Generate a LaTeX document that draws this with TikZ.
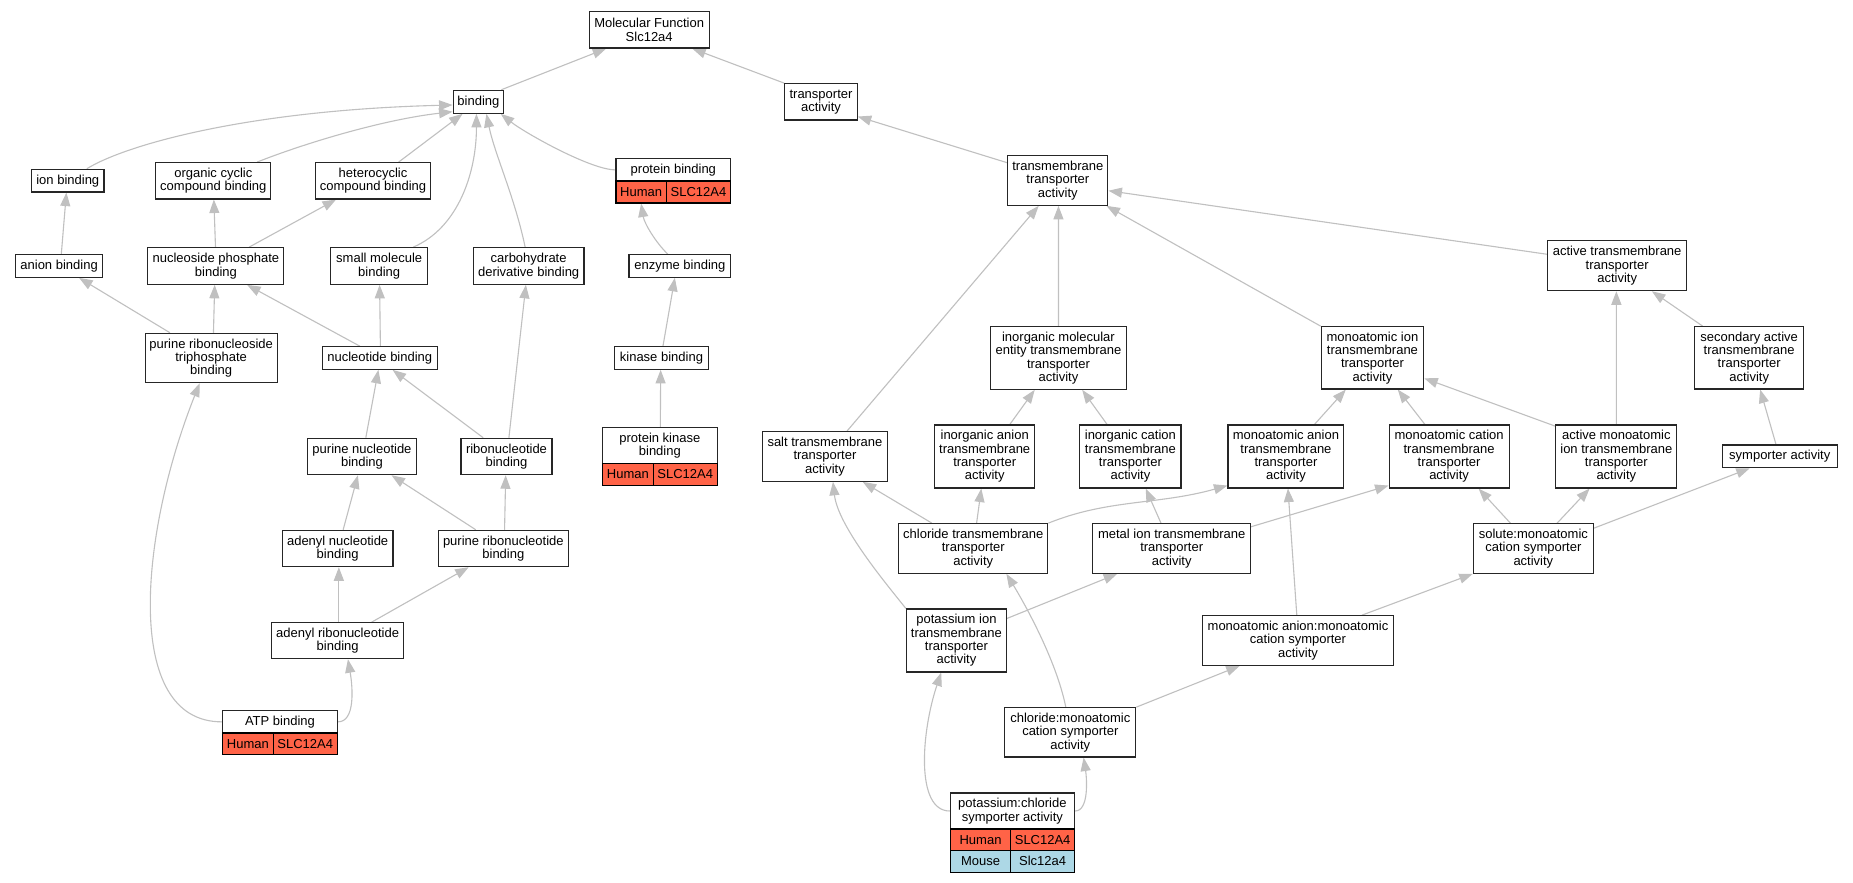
\documentclass[tikz,border=0pt]{standalone}
\usepackage{fontspec}
\setmainfont{Liberation Sans}
\usetikzlibrary{arrows.meta,backgrounds}
\definecolor{edgeC}{HTML}{C0C0C0}
\definecolor{borderC}{HTML}{262626}
\definecolor{humanC}{HTML}{FF6347}
\definecolor{mouseC}{HTML}{ADD8E6}
\newcommand{\gofont}{\fontsize{13}{13.3}\selectfont}
\tikzset{
  gonode/.style={draw=borderC, line width=1.1pt, fill=white, inner sep=0pt, align=center, font=\gofont},
  humcell/.style={gonode, fill=humanC, draw=black},
  moucell/.style={gonode, fill=mouseC, draw=black},
  goedge/.style={draw=edgeC, line width=1.1pt, -{Triangle[length=13.5pt,width=10pt]}}
}
\begin{document}
\begin{tikzpicture}[x=1pt,y=-1pt]
\useasboundingbox (0,0) rectangle (1853,883);
% ---------- nodes ----------
\node[gonode, minimum width=120.2pt, minimum height=36.3pt] (mf) at (649.2,29.85) {Molecular Function\\Slc12a4};
\node[gonode, minimum width=50.7pt, minimum height=23pt] (binding) at (478.45,101.8) {binding};
\node[gonode, minimum width=72.4pt, minimum height=36.3pt] (transporter) at (821,101.85) {transporter\\activity};
\node[gonode, minimum width=72.4pt, minimum height=22.7pt] (ionb) at (67.8,180.65) {ion binding};
\node[gonode, minimum width=115.1pt, minimum height=36.3pt] (organic) at (213.35,180.85) {organic cyclic\\compound binding};
\node[gonode, minimum width=115.1pt, minimum height=36.3pt] (hetero) at (373.05,180.85) {heterocyclic\\compound binding};
\node[gonode, minimum width=114.7pt, minimum height=22.3pt] (pb) at (673.35,169.85) {protein binding};
\node[humcell, minimum width=50.2pt, minimum height=22pt] (pbh) at (641.1,192) {Human};
\node[humcell, minimum width=64.5pt, minimum height=22pt] (pbs) at (698.45,192) {SLC12A4};
\node[gonode, minimum width=100.1pt, minimum height=49.6pt] (tm) at (1057.85,180.5) {transmembrane\\transporter\\activity};
\node[gonode, minimum width=86.6pt, minimum height=22.6pt] (anion) at (59.1,266) {anion binding};
\node[gonode, minimum width=136pt, minimum height=36.6pt] (nucphos) at (215.9,266) {nucleoside phosphate\\binding};
\node[gonode, minimum width=97.2pt, minimum height=36.6pt] (smallmol) at (379.2,266) {small molecule\\binding};
\node[gonode, minimum width=110.7pt, minimum height=36.6pt] (carbo) at (528.65,266) {carbohydrate\\derivative binding};
\node[gonode, minimum width=101.7pt, minimum height=22.6pt] (enzyme) at (679.85,266) {enzyme binding};
\node[gonode, minimum width=138.7pt, minimum height=50pt] (activetm) at (1617.15,265.7) {active transmembrane\\transporter\\activity};
\node[gonode, minimum width=132.1pt, minimum height=49.4pt] (prt) at (211.15,358) {purine ribonucleoside\\triphosphate\\binding};
\node[gonode, minimum width=115pt, minimum height=22.6pt] (nucleotide) at (379.8,358) {nucleotide binding};
\node[gonode, minimum width=93.3pt, minimum height=22.6pt] (kinase) at (661.45,358) {kinase binding};
\node[gonode, minimum width=136.1pt, minimum height=62.6pt] (inorgmol) at (1058.45,358) {inorganic molecular\\entity transmembrane\\transporter\\activity};
\node[gonode, minimum width=102.5pt, minimum height=62.3pt] (monoion) at (1372.45,357.85) {monoatomic ion\\transmembrane\\transporter\\activity};
\node[gonode, minimum width=109.5pt, minimum height=62.3pt] (secondary) at (1749.15,357.85) {secondary active\\transmembrane\\transporter\\activity};
\node[gonode, minimum width=108.8pt, minimum height=36.4pt] (purnuc) at (362,456.5) {purine nucleotide\\binding};
\node[gonode, minimum width=91pt, minimum height=36.4pt] (ribonuc) at (506.5,456.5) {ribonucleotide\\binding};
\node[gonode, minimum width=114.7pt, minimum height=36pt] (pk) at (659.85,445.7) {protein kinase\\binding};
\node[humcell, minimum width=50.7pt, minimum height=21.6pt] (pkh) at (627.85,474.5) {Human};
\node[humcell, minimum width=64pt, minimum height=21.6pt] (pks) at (685.2,474.5) {SLC12A4};
\node[gonode, minimum width=125.3pt, minimum height=49.6pt] (salt) at (824.95,456.5) {salt transmembrane\\transporter\\activity};
\node[gonode, minimum width=100pt, minimum height=63pt] (inorganion) at (984.7,456.5) {inorganic anion\\transmembrane\\transporter\\activity};
\node[gonode, minimum width=101.2pt, minimum height=63pt] (inorgcation) at (1130.4,456.5) {inorganic cation\\transmembrane\\transporter\\activity};
\node[gonode, minimum width=115.9pt, minimum height=63pt] (monoanion) at (1285.95,456.5) {monoatomic anion\\transmembrane\\transporter\\activity};
\node[gonode, minimum width=120pt, minimum height=63pt] (monocation) at (1449.1,456.5) {monoatomic cation\\transmembrane\\transporter\\activity};
\node[gonode, minimum width=121.1pt, minimum height=63pt] (activemono) at (1616.35,456.5) {active monoatomic\\ion transmembrane\\transporter\\activity};
\node[gonode, minimum width=114.9pt, minimum height=22.7pt] (symporter) at (1779.75,456.35) {symporter activity};
\node[gonode, minimum width=110.7pt, minimum height=36.4pt] (adenylnuc) at (337.65,548.5) {adenyl nucleotide\\binding};
\node[gonode, minimum width=129.7pt, minimum height=36.4pt] (purribonuc) at (503.35,548.5) {purine ribonucleotide\\binding};
\node[gonode, minimum width=149.1pt, minimum height=49.6pt] (chloridetm) at (973.25,548.5) {chloride transmembrane\\transporter\\activity};
\node[gonode, minimum width=157.6pt, minimum height=49.6pt] (metal) at (1171.7,548.5) {metal ion transmembrane\\transporter\\activity};
\node[gonode, minimum width=120.1pt, minimum height=49.6pt] (solute) at (1533.35,548.5) {solute:monoatomic\\cation symporter\\activity};
\node[gonode, minimum width=100pt, minimum height=63pt] (potion) at (956.4,640.5) {potassium ion\\transmembrane\\transporter\\activity};
\node[gonode, minimum width=132.1pt, minimum height=36pt] (adenylribo) at (337.65,640.7) {adenyl ribonucleotide\\binding};
\node[gonode, minimum width=190.6pt, minimum height=49.6pt] (monoanionsym) at (1298,640.5) {monoatomic anion:monoatomic\\cation symporter\\activity};
\node[gonode, minimum width=114.7pt, minimum height=22.3pt] (atp) at (279.95,721.85) {ATP binding};
\node[humcell, minimum width=50.6pt, minimum height=21.7pt] (atph) at (247.9,743.85) {Human};
\node[humcell, minimum width=64.1pt, minimum height=21.7pt] (atps) at (305.25,743.85) {SLC12A4};
\node[gonode, minimum width=130.8pt, minimum height=49.3pt] (chloridesym) at (1070.3,732.35) {chloride:monoatomic\\cation symporter\\activity};
\node[gonode, minimum width=124.2pt, minimum height=36pt] (potcl) at (1012.4,811) {potassium:chloride\\symporter activity};
\node[humcell, minimum width=60.5pt, minimum height=21.3pt] (pch) at (980.55,839.65) {Human};
\node[humcell, minimum width=63.7pt, minimum height=21.3pt] (pcs) at (1042.65,839.65) {SLC12A4};
\node[moucell, minimum width=60.5pt, minimum height=22pt] (pcm) at (980.55,861.3) {Mouse};
\node[moucell, minimum width=63.7pt, minimum height=22pt] (pcms) at (1042.65,861.3) {Slc12a4};
% ---------- edges ----------
\begin{scope}[on background layer]
\fill[white] (0,0) rectangle (1853,883);
\draw[goedge] ([xshift=-3pt]binding.north east) -- ([xshift=-43pt]mf.south);
\draw[goedge] (transporter.north west) -- ([xshift=43pt]mf.south);
\draw[goedge] ([xshift=19pt]ionb.north) .. controls (127,144) and (251,110) .. ([yshift=-3.2pt]binding.west);
\draw[goedge] ([xshift=43.6pt]organic.north) .. controls (300,145) and (380,120) .. ([yshift=-9.9pt]binding.west);
\draw[goedge] ([xshift=25.5pt]hetero.north) -- ([xshift=-15.9pt]binding.south);
\draw[goedge] ([xshift=34pt]smallmol.north) .. controls (458,228) and (476.5,173) .. ([xshift=-2pt]binding.south);
\draw[goedge] ([xshift=-3.5pt]carbo.north) .. controls (515,198) and (494.4,153.3) .. ([xshift=8pt]binding.south);
\draw[goedge] (pb.west) .. controls (591,170) and (525,133) .. ([xshift=-3.6pt]binding.south east);
\draw[goedge] ([xshift=2.2pt]anion.north) -- ([xshift=-1.4pt]ionb.south);
\draw[goedge] ([xshift=-0.4pt]nucphos.north) -- ([xshift=0.5pt]organic.south);
\draw[goedge] ([xshift=33.2pt]nucphos.north) -- ([xshift=-37pt]hetero.south);
\draw[goedge] ([xshift=-41.2pt]prt.north) -- ([xshift=20pt]anion.south);
\draw[goedge] ([xshift=2.3pt]prt.north) -- ([xshift=-1.2pt]nucphos.south);
\draw[goedge] ([xshift=-20pt]nucleotide.north) -- ([xshift=31.2pt]nucphos.south);
\draw[goedge] ([xshift=0.6pt]nucleotide.north) -- ([xshift=0.4pt]smallmol.south);
\draw[goedge] ([xshift=3.8pt]purnuc.north) -- ([xshift=-1.4pt]nucleotide.south);
\draw[goedge] ([xshift=-23.3pt]ribonuc.north) -- ([xshift=12.8pt]nucleotide.south);
\draw[goedge] ([xshift=2.4pt]ribonuc.north) -- ([xshift=-2.75pt]carbo.south);
\draw[goedge] ([xshift=5.5pt]adenylnuc.north) -- ([xshift=-4.1pt]purnuc.south);
\draw[goedge] ([xshift=-27.6pt]purribonuc.north) -- ([xshift=29.5pt]purnuc.south);
\draw[goedge] ([xshift=1.2pt]purribonuc.north) -- ([xshift=-0.8pt]ribonuc.south);
\draw[goedge] ([xshift=1.2pt]adenylribo.north) -- ([xshift=1.2pt]adenylnuc.south);
\draw[goedge] ([xshift=34pt]adenylribo.north) -- ([xshift=-34.7pt]purribonuc.south);
\draw[goedge] (atp.east) .. controls (355,722) and (353,689) .. ([xshift=10.3pt]adenylribo.south);
\draw[goedge] (atp.west) .. controls (122,722) and (140,533) .. ([xshift=-11.5pt]prt.south);
\draw[goedge] ([xshift=-12pt]enzyme.north) .. controls (655.8,242.7) and (644.3,223.3) .. (pbh.south);
\draw[goedge] ([xshift=1.5pt]kinase.north) -- ([xshift=-5pt]enzyme.south);
\draw[goedge] ([xshift=0.5pt]pk.north) -- ([xshift=-0.8pt]kinase.south);
\draw[goedge] ([yshift=-7.6pt]tm.north west) -- ([yshift=4pt]transporter.south east);
\draw[goedge] ([xshift=22pt]salt.north) -- ([xshift=-19.2pt]tm.south);
\draw[goedge] (inorgmol.north) -- ([xshift=0.6pt]tm.south);
\draw[goedge] (monoion.north west) -- ([xshift=-2pt]tm.south east);
\draw[goedge] ([yshift=11.4pt]activetm.west) -- ([yshift=-10.2pt]tm.east);
\draw[goedge] ([xshift=25.1pt]inorganion.north) -- ([xshift=-23.75pt]inorgmol.south);
\draw[goedge] ([xshift=-23.3pt]inorgcation.north) -- ([xshift=23.75pt]inorgmol.south);
\draw[goedge] ([xshift=28.5pt]monoanion.north) -- ([xshift=-26.65pt]monoion.south);
\draw[goedge] ([xshift=-24.2pt]monocation.north) -- ([xshift=25.35pt]monoion.south);
\draw[goedge] ([yshift=-1.7pt]activemono.north west) -- ([yshift=-20.45pt]monoion.east);
\draw[goedge] (activemono.north) -- ([xshift=-0.8pt]activetm.south);
\draw[goedge] ([xshift=-46.45pt]secondary.north) -- ([xshift=34.75pt]activetm.south);
\draw[goedge] ([xshift=-3.75pt]symporter.north) -- ([xshift=11pt]secondary.south);
\draw[goedge] ([xshift=-41.35pt]chloridetm.north) -- ([xshift=37.75pt]salt.south);
\draw[goedge] ([xshift=3.35pt]chloridetm.north) -- ([xshift=-3.4pt]inorganion.south);
\draw[goedge] (chloridetm.north east) .. controls (1108,499) and (1158,505) .. ([yshift=3pt]monoanion.south west);
\draw[goedge] ([xshift=-10.7pt]metal.north) -- ([xshift=15.3pt]inorgcation.south);
\draw[goedge] ([yshift=-3.6pt]metal.north east) -- ([yshift=3pt]monocation.south west);
\draw[goedge] ([xshift=-22.95pt]solute.north) -- ([xshift=29.5pt]monocation.south);
\draw[goedge] ([xshift=23.75pt]solute.north) -- ([xshift=-26.75pt]activemono.south);
\draw[goedge] ([yshift=-5pt]solute.north east) -- ([xshift=-30pt]symporter.south);
\draw[goedge] (potion.north west) .. controls (886.4,584) and (838,526.3) .. ([xshift=8pt]salt.south);
\draw[goedge] ([yshift=-10pt]potion.north east) -- ([xshift=-54.5pt]metal.south);
\draw[goedge] ([xshift=-1.2pt]monoanionsym.north) -- ([xshift=2pt]monoanion.south);
\draw[goedge] ([xshift=63.9pt]monoanionsym.north) -- (solute.south west);
\draw[goedge] ([xshift=-4.5pt]chloridesym.north) .. controls (1055.8,657.7) and (1021.4,598.3) .. ([xshift=33.15pt]chloridetm.south);
\draw[goedge] (chloridesym.north east) -- ([xshift=-58.3pt]monoanionsym.south);
\draw[goedge] (potcl.west) .. controls (915.3,811) and (921.2,732) .. ([xshift=-15.2pt]potion.south);
\draw[goedge] (potcl.east) .. controls (1089.5,811) and (1086.6,777) .. ([xshift=13.3pt]chloridesym.south);
\end{scope}
\end{tikzpicture}
\end{document}
